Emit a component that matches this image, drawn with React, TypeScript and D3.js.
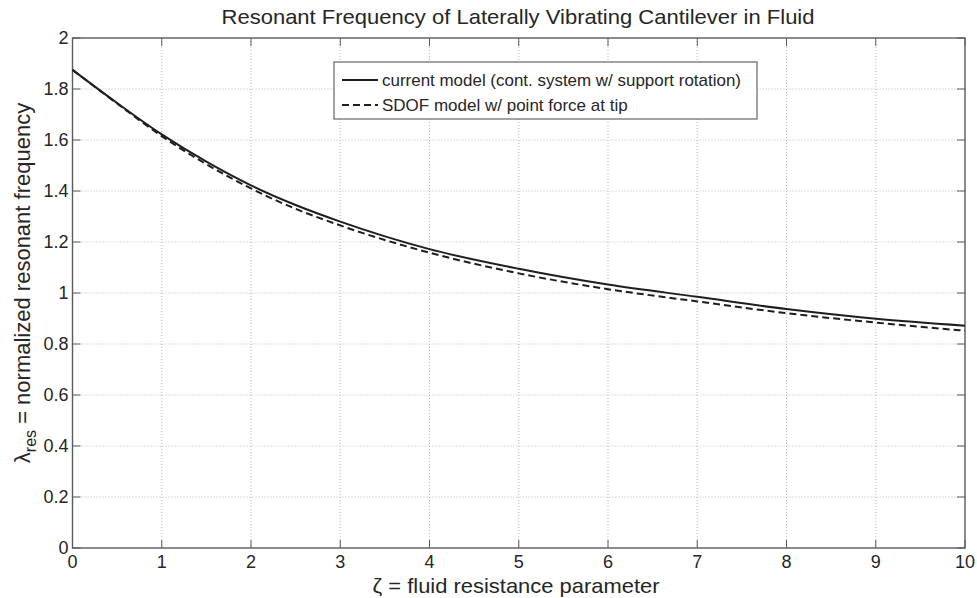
import React from "react";
import * as d3 from "d3";

const zeta = [0, 0.5, 1, 1.5, 2, 2.5, 3, 4, 5, 6, 7, 8, 9, 10];
const currentModel = [1.875, 1.745, 1.622, 1.515, 1.422, 1.345, 1.28, 1.172, 1.095, 1.033, 0.985, 0.937, 0.899, 0.872];
const sdofModel = [1.875, 1.743, 1.615, 1.505, 1.41, 1.33, 1.265, 1.158, 1.077, 1.015, 0.967, 0.921, 0.884, 0.852];
const xTicks = [0, 1, 2, 3, 4, 5, 6, 7, 8, 9, 10];
const yTicks = [0, 0.2, 0.4, 0.6, 0.8, 1, 1.2, 1.4, 1.6, 1.8, 2];
const legendLabels = ["current model (cont. system w/ support rotation)", "SDOF model w/ point force at tip"];
const title = "Resonant Frequency of Laterally Vibrating Cantilever in Fluid";

export default function App() {
  const W = 977, H = 598;
  const L = 72.5, R = 965, T = 38, B = 548;
  const x = d3.scaleLinear().domain([0, 10]).range([L, R]);
  const y = d3.scaleLinear().domain([0, 2]).range([B, T]);
  const line = d3.line<number>().x((_, i) => x(zeta[i])).y((d) => y(d)).curve(d3.curveMonotoneX);
  const font = "Arial, 'Liberation Sans', Helvetica, sans-serif";
  const axisColor = "#5a5a5a";
  const textColor = "#262626";
  const fmt = (v: number) => (Number.isInteger(v) ? String(v) : String(+v.toFixed(1)));
  return (
    <svg width={W} height={H} style={{ position: "absolute", left: 0, top: 0, background: "#fff" }} fontFamily={font}>
      <rect x={0} y={0} width={W} height={H} fill="#fff" />
      {/* grid */}
      {xTicks.slice(1, -1).map((t) => (
        <line key={"gx" + t} x1={x(t)} x2={x(t)} y1={T} y2={B} stroke="#b8b8b8" strokeWidth={1} strokeDasharray="1,2" />
      ))}
      {yTicks.slice(1, -1).map((t) => (
        <line key={"gy" + t} x1={L} x2={R} y1={y(t)} y2={y(t)} stroke="#b8b8b8" strokeWidth={1} strokeDasharray="1,2" />
      ))}
      {/* ticks */}
      {xTicks.map((t) => (
        <g key={"tx" + t}>
          <line x1={x(t)} x2={x(t)} y1={B} y2={B - 8} stroke={axisColor} strokeWidth={1} />
          <line x1={x(t)} x2={x(t)} y1={T} y2={T + 8} stroke={axisColor} strokeWidth={1} />
          <text x={x(t)} y={B + 20} textAnchor="middle" fontSize={18} fill={textColor}>{fmt(t)}</text>
        </g>
      ))}
      {yTicks.map((t) => (
        <g key={"ty" + t}>
          <line x1={L} x2={L + 8} y1={y(t)} y2={y(t)} stroke={axisColor} strokeWidth={1} />
          <line x1={R} x2={R - 8} y1={y(t)} y2={y(t)} stroke={axisColor} strokeWidth={1} />
          <text x={L - 4} y={y(t) + 6} textAnchor="end" fontSize={18} fill={textColor}>{fmt(t)}</text>
        </g>
      ))}
      <rect x={L} y={T} width={R - L} height={B - T} fill="none" stroke={axisColor} strokeWidth={1.4} />
      {/* curves */}
      <path d={line(sdofModel) || ""} fill="none" stroke="#1e1e1e" strokeWidth={2} strokeDasharray="7,4" />
      <path d={line(currentModel) || ""} fill="none" stroke="#1e1e1e" strokeWidth={2} />
      {/* legend */}
      <rect x={334} y={62} width={423} height={57} fill="#fff" stroke="#666" strokeWidth={1.2} />
      <line x1={342} x2={378} y1={80} y2={80} stroke="#1e1e1e" strokeWidth={1.8} />
      <line x1={342} x2={378} y1={105} y2={105} stroke="#1e1e1e" strokeWidth={1.8} strokeDasharray="7,4" />
      <text x={382} y={86} fontSize={17} fill={textColor} textLength={359} lengthAdjust="spacingAndGlyphs">{legendLabels[0]}</text>
      <text x={382} y={111} fontSize={17} fill={textColor}>{legendLabels[1]}</text>
      {/* title */}
      <text x={518} y={24} textAnchor="middle" fontSize={21} fill={textColor} textLength={593} lengthAdjust="spacingAndGlyphs">{title}</text>
      {/* x label */}
      <text x={516} y={593} textAnchor="middle" fontSize={21} fill={textColor} textLength={287} lengthAdjust="spacingAndGlyphs">ζ = fluid resistance parameter</text>
      {/* y label */}
      <text transform={`translate(30,283) rotate(-90)`} textAnchor="middle" fontSize={22} fill={textColor}>
        <tspan>λ</tspan>
        <tspan dy={6} fontSize={16}>res</tspan>
        <tspan dy={-6}> = normalized resonant frequency</tspan>
      </text>
    </svg>
  );
}
